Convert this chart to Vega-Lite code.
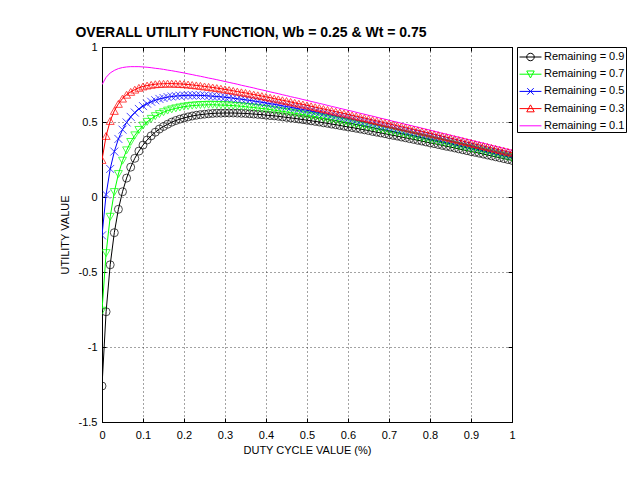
{
"$schema":"https://vega.github.io/schema/vega-lite/v6.json",
"width":410,"height":375,
"autosize":{"type":"none"},
"padding":{"left":102,"top":47,"right":129,"bottom":63},
"background":"white",
"title":{"text":"OVERALL UTILITY FUNCTION, Wb = 0.25 & Wt = 0.75","font":"Liberation Sans","fontSize":14,"fontWeight":"bold","color":"black","anchor":"middle","frame":"group","dx":-56,"offset":1},
"config":{
"view":{"stroke":"black","strokeWidth":1},
"axis":{"labelFont":"Liberation Sans","labelFontSize":11,"labelColor":"black","titleFont":"Liberation Sans","titleFontSize":11,"titleFontWeight":"normal","titleColor":"black","tickColor":"black","domainColor":"black","gridColor":"#333333","gridDash":[1,3],"gridOpacity":0.9,"gridWidth":1,"tickSize":-4,"labelOverlap":false,"labelFlush":false}
},
"data":{"values":[
{"x":0,"s":0.9,"y":-1.26},{"x":0.01,"s":0.9,"y":-0.765},{"x":0.02,"s":0.9,"y":-0.452},{"x":0.03,"s":0.9,"y":-0.238},{"x":0.04,"s":0.9,"y":-0.082},{"x":0.05,"s":0.9,"y":0.035},{"x":0.06,"s":0.9,"y":0.126},{"x":0.07,"s":0.9,"y":0.199},{"x":0.08,"s":0.9,"y":0.258},{"x":0.09,"s":0.9,"y":0.306},
{"x":0.1,"s":0.9,"y":0.346},{"x":0.11,"s":0.9,"y":0.38},{"x":0.12,"s":0.9,"y":0.408},{"x":0.13,"s":0.9,"y":0.432},{"x":0.14,"s":0.9,"y":0.453},{"x":0.15,"s":0.9,"y":0.47},{"x":0.16,"s":0.9,"y":0.485},{"x":0.17,"s":0.9,"y":0.499},{"x":0.18,"s":0.9,"y":0.51},{"x":0.19,"s":0.9,"y":0.519},
{"x":0.2,"s":0.9,"y":0.527},{"x":0.21,"s":0.9,"y":0.534},{"x":0.22,"s":0.9,"y":0.54},{"x":0.23,"s":0.9,"y":0.545},{"x":0.24,"s":0.9,"y":0.549},{"x":0.25,"s":0.9,"y":0.552},{"x":0.26,"s":0.9,"y":0.555},{"x":0.27,"s":0.9,"y":0.557},{"x":0.28,"s":0.9,"y":0.559},{"x":0.29,"s":0.9,"y":0.559},
{"x":0.3,"s":0.9,"y":0.56},{"x":0.31,"s":0.9,"y":0.56},{"x":0.32,"s":0.9,"y":0.56},{"x":0.33,"s":0.9,"y":0.559},{"x":0.34,"s":0.9,"y":0.558},{"x":0.35,"s":0.9,"y":0.557},{"x":0.36,"s":0.9,"y":0.555},{"x":0.37,"s":0.9,"y":0.553},{"x":0.38,"s":0.9,"y":0.551},{"x":0.39,"s":0.9,"y":0.549},
{"x":0.4,"s":0.9,"y":0.546},{"x":0.41,"s":0.9,"y":0.543},{"x":0.42,"s":0.9,"y":0.541},{"x":0.43,"s":0.9,"y":0.538},{"x":0.44,"s":0.9,"y":0.534},{"x":0.45,"s":0.9,"y":0.531},{"x":0.46,"s":0.9,"y":0.527},{"x":0.47,"s":0.9,"y":0.524},{"x":0.48,"s":0.9,"y":0.52},{"x":0.49,"s":0.9,"y":0.516},
{"x":0.5,"s":0.9,"y":0.512},{"x":0.51,"s":0.9,"y":0.508},{"x":0.52,"s":0.9,"y":0.504},{"x":0.53,"s":0.9,"y":0.5},{"x":0.54,"s":0.9,"y":0.495},{"x":0.55,"s":0.9,"y":0.491},{"x":0.56,"s":0.9,"y":0.486},{"x":0.57,"s":0.9,"y":0.482},{"x":0.58,"s":0.9,"y":0.477},{"x":0.59,"s":0.9,"y":0.472},
{"x":0.6,"s":0.9,"y":0.467},{"x":0.61,"s":0.9,"y":0.463},{"x":0.62,"s":0.9,"y":0.458},{"x":0.63,"s":0.9,"y":0.453},{"x":0.64,"s":0.9,"y":0.448},{"x":0.65,"s":0.9,"y":0.443},{"x":0.66,"s":0.9,"y":0.437},{"x":0.67,"s":0.9,"y":0.432},{"x":0.68,"s":0.9,"y":0.427},{"x":0.69,"s":0.9,"y":0.422},
{"x":0.7,"s":0.9,"y":0.416},{"x":0.71,"s":0.9,"y":0.411},{"x":0.72,"s":0.9,"y":0.406},{"x":0.73,"s":0.9,"y":0.4},{"x":0.74,"s":0.9,"y":0.395},{"x":0.75,"s":0.9,"y":0.389},{"x":0.76,"s":0.9,"y":0.384},{"x":0.77,"s":0.9,"y":0.378},{"x":0.78,"s":0.9,"y":0.373},{"x":0.79,"s":0.9,"y":0.367},
{"x":0.8,"s":0.9,"y":0.361},{"x":0.81,"s":0.9,"y":0.356},{"x":0.82,"s":0.9,"y":0.35},{"x":0.83,"s":0.9,"y":0.344},{"x":0.84,"s":0.9,"y":0.338},{"x":0.85,"s":0.9,"y":0.333},{"x":0.86,"s":0.9,"y":0.327},{"x":0.87,"s":0.9,"y":0.321},{"x":0.88,"s":0.9,"y":0.315},{"x":0.89,"s":0.9,"y":0.309},
{"x":0.9,"s":0.9,"y":0.303},{"x":0.91,"s":0.9,"y":0.298},{"x":0.92,"s":0.9,"y":0.292},{"x":0.93,"s":0.9,"y":0.286},{"x":0.94,"s":0.9,"y":0.28},{"x":0.95,"s":0.9,"y":0.274},{"x":0.96,"s":0.9,"y":0.268},{"x":0.97,"s":0.9,"y":0.262},{"x":0.98,"s":0.9,"y":0.256},{"x":0.99,"s":0.9,"y":0.25},{"x":1,"s":0.9,"y":0.244},

{"x":0,"s":0.7,"y":-0.758},{"x":0.01,"s":0.7,"y":-0.374},{"x":0.02,"s":0.7,"y":-0.132},{"x":0.03,"s":0.7,"y":0.033},{"x":0.04,"s":0.7,"y":0.153},{"x":0.05,"s":0.7,"y":0.242},{"x":0.06,"s":0.7,"y":0.311},{"x":0.07,"s":0.7,"y":0.367},{"x":0.08,"s":0.7,"y":0.411},{"x":0.09,"s":0.7,"y":0.447},
{"x":0.1,"s":0.7,"y":0.476},{"x":0.11,"s":0.7,"y":0.501},{"x":0.12,"s":0.7,"y":0.521},{"x":0.13,"s":0.7,"y":0.539},{"x":0.14,"s":0.7,"y":0.553},{"x":0.15,"s":0.7,"y":0.565},{"x":0.16,"s":0.7,"y":0.576},{"x":0.17,"s":0.7,"y":0.584},{"x":0.18,"s":0.7,"y":0.591},{"x":0.19,"s":0.7,"y":0.597},
{"x":0.2,"s":0.7,"y":0.602},{"x":0.21,"s":0.7,"y":0.606},{"x":0.22,"s":0.7,"y":0.609},{"x":0.23,"s":0.7,"y":0.611},{"x":0.24,"s":0.7,"y":0.613},{"x":0.25,"s":0.7,"y":0.614},{"x":0.26,"s":0.7,"y":0.615},{"x":0.27,"s":0.7,"y":0.615},{"x":0.28,"s":0.7,"y":0.614},{"x":0.29,"s":0.7,"y":0.613},
{"x":0.3,"s":0.7,"y":0.612},{"x":0.31,"s":0.7,"y":0.611},{"x":0.32,"s":0.7,"y":0.609},{"x":0.33,"s":0.7,"y":0.607},{"x":0.34,"s":0.7,"y":0.605},{"x":0.35,"s":0.7,"y":0.602},{"x":0.36,"s":0.7,"y":0.599},{"x":0.37,"s":0.7,"y":0.597},{"x":0.38,"s":0.7,"y":0.593},{"x":0.39,"s":0.7,"y":0.59},
{"x":0.4,"s":0.7,"y":0.587},{"x":0.41,"s":0.7,"y":0.583},{"x":0.42,"s":0.7,"y":0.579},{"x":0.43,"s":0.7,"y":0.575},{"x":0.44,"s":0.7,"y":0.571},{"x":0.45,"s":0.7,"y":0.567},{"x":0.46,"s":0.7,"y":0.563},{"x":0.47,"s":0.7,"y":0.558},{"x":0.48,"s":0.7,"y":0.554},{"x":0.49,"s":0.7,"y":0.55},
{"x":0.5,"s":0.7,"y":0.545},{"x":0.51,"s":0.7,"y":0.54},{"x":0.52,"s":0.7,"y":0.536},{"x":0.53,"s":0.7,"y":0.531},{"x":0.54,"s":0.7,"y":0.526},{"x":0.55,"s":0.7,"y":0.521},{"x":0.56,"s":0.7,"y":0.516},{"x":0.57,"s":0.7,"y":0.511},{"x":0.58,"s":0.7,"y":0.506},{"x":0.59,"s":0.7,"y":0.5},
{"x":0.6,"s":0.7,"y":0.495},{"x":0.61,"s":0.7,"y":0.49},{"x":0.62,"s":0.7,"y":0.484},{"x":0.63,"s":0.7,"y":0.479},{"x":0.64,"s":0.7,"y":0.474},{"x":0.65,"s":0.7,"y":0.468},{"x":0.66,"s":0.7,"y":0.463},{"x":0.67,"s":0.7,"y":0.457},{"x":0.68,"s":0.7,"y":0.452},{"x":0.69,"s":0.7,"y":0.446},
{"x":0.7,"s":0.7,"y":0.44},{"x":0.71,"s":0.7,"y":0.435},{"x":0.72,"s":0.7,"y":0.429},{"x":0.73,"s":0.7,"y":0.423},{"x":0.74,"s":0.7,"y":0.417},{"x":0.75,"s":0.7,"y":0.412},{"x":0.76,"s":0.7,"y":0.406},{"x":0.77,"s":0.7,"y":0.4},{"x":0.78,"s":0.7,"y":0.394},{"x":0.79,"s":0.7,"y":0.388},
{"x":0.8,"s":0.7,"y":0.382},{"x":0.81,"s":0.7,"y":0.376},{"x":0.82,"s":0.7,"y":0.37},{"x":0.83,"s":0.7,"y":0.364},{"x":0.84,"s":0.7,"y":0.358},{"x":0.85,"s":0.7,"y":0.353},{"x":0.86,"s":0.7,"y":0.346},{"x":0.87,"s":0.7,"y":0.34},{"x":0.88,"s":0.7,"y":0.334},{"x":0.89,"s":0.7,"y":0.328},
{"x":0.9,"s":0.7,"y":0.322},{"x":0.91,"s":0.7,"y":0.316},{"x":0.92,"s":0.7,"y":0.31},{"x":0.93,"s":0.7,"y":0.304},{"x":0.94,"s":0.7,"y":0.298},{"x":0.95,"s":0.7,"y":0.292},{"x":0.96,"s":0.7,"y":0.285},{"x":0.97,"s":0.7,"y":0.279},{"x":0.98,"s":0.7,"y":0.273},{"x":0.99,"s":0.7,"y":0.267},{"x":1,"s":0.7,"y":0.261},

{"x":0,"s":0.5,"y":-0.256},{"x":0.01,"s":0.5,"y":0.016},{"x":0.02,"s":0.5,"y":0.187},{"x":0.03,"s":0.5,"y":0.303},{"x":0.04,"s":0.5,"y":0.387},{"x":0.05,"s":0.5,"y":0.449},{"x":0.06,"s":0.5,"y":0.497},{"x":0.07,"s":0.5,"y":0.534},{"x":0.08,"s":0.5,"y":0.563},{"x":0.09,"s":0.5,"y":0.587},
{"x":0.1,"s":0.5,"y":0.606},{"x":0.11,"s":0.5,"y":0.622},{"x":0.12,"s":0.5,"y":0.635},{"x":0.13,"s":0.5,"y":0.645},{"x":0.14,"s":0.5,"y":0.654},{"x":0.15,"s":0.5,"y":0.66},{"x":0.16,"s":0.5,"y":0.666},{"x":0.17,"s":0.5,"y":0.67},{"x":0.18,"s":0.5,"y":0.673},{"x":0.19,"s":0.5,"y":0.675},
{"x":0.2,"s":0.5,"y":0.677},{"x":0.21,"s":0.5,"y":0.678},{"x":0.22,"s":0.5,"y":0.678},{"x":0.23,"s":0.5,"y":0.678},{"x":0.24,"s":0.5,"y":0.677},{"x":0.25,"s":0.5,"y":0.676},{"x":0.26,"s":0.5,"y":0.674},{"x":0.27,"s":0.5,"y":0.672},{"x":0.28,"s":0.5,"y":0.67},{"x":0.29,"s":0.5,"y":0.668},
{"x":0.3,"s":0.5,"y":0.665},{"x":0.31,"s":0.5,"y":0.662},{"x":0.32,"s":0.5,"y":0.659},{"x":0.33,"s":0.5,"y":0.655},{"x":0.34,"s":0.5,"y":0.652},{"x":0.35,"s":0.5,"y":0.648},{"x":0.36,"s":0.5,"y":0.644},{"x":0.37,"s":0.5,"y":0.64},{"x":0.38,"s":0.5,"y":0.636},{"x":0.39,"s":0.5,"y":0.631},
{"x":0.4,"s":0.5,"y":0.627},{"x":0.41,"s":0.5,"y":0.622},{"x":0.42,"s":0.5,"y":0.618},{"x":0.43,"s":0.5,"y":0.613},{"x":0.44,"s":0.5,"y":0.608},{"x":0.45,"s":0.5,"y":0.603},{"x":0.46,"s":0.5,"y":0.598},{"x":0.47,"s":0.5,"y":0.593},{"x":0.48,"s":0.5,"y":0.588},{"x":0.49,"s":0.5,"y":0.583},
{"x":0.5,"s":0.5,"y":0.578},{"x":0.51,"s":0.5,"y":0.573},{"x":0.52,"s":0.5,"y":0.567},{"x":0.53,"s":0.5,"y":0.562},{"x":0.54,"s":0.5,"y":0.556},{"x":0.55,"s":0.5,"y":0.551},{"x":0.56,"s":0.5,"y":0.545},{"x":0.57,"s":0.5,"y":0.54},{"x":0.58,"s":0.5,"y":0.534},{"x":0.59,"s":0.5,"y":0.529},
{"x":0.6,"s":0.5,"y":0.523},{"x":0.61,"s":0.5,"y":0.517},{"x":0.62,"s":0.5,"y":0.511},{"x":0.63,"s":0.5,"y":0.505},{"x":0.64,"s":0.5,"y":0.5},{"x":0.65,"s":0.5,"y":0.494},{"x":0.66,"s":0.5,"y":0.488},{"x":0.67,"s":0.5,"y":0.482},{"x":0.68,"s":0.5,"y":0.476},{"x":0.69,"s":0.5,"y":0.47},
{"x":0.7,"s":0.5,"y":0.464},{"x":0.71,"s":0.5,"y":0.458},{"x":0.72,"s":0.5,"y":0.452},{"x":0.73,"s":0.5,"y":0.446},{"x":0.74,"s":0.5,"y":0.44},{"x":0.75,"s":0.5,"y":0.434},{"x":0.76,"s":0.5,"y":0.428},{"x":0.77,"s":0.5,"y":0.422},{"x":0.78,"s":0.5,"y":0.416},{"x":0.79,"s":0.5,"y":0.41},
{"x":0.8,"s":0.5,"y":0.403},{"x":0.81,"s":0.5,"y":0.397},{"x":0.82,"s":0.5,"y":0.391},{"x":0.83,"s":0.5,"y":0.385},{"x":0.84,"s":0.5,"y":0.379},{"x":0.85,"s":0.5,"y":0.372},{"x":0.86,"s":0.5,"y":0.366},{"x":0.87,"s":0.5,"y":0.36},{"x":0.88,"s":0.5,"y":0.354},{"x":0.89,"s":0.5,"y":0.347},
{"x":0.9,"s":0.5,"y":0.341},{"x":0.91,"s":0.5,"y":0.335},{"x":0.92,"s":0.5,"y":0.328},{"x":0.93,"s":0.5,"y":0.322},{"x":0.94,"s":0.5,"y":0.316},{"x":0.95,"s":0.5,"y":0.309},{"x":0.96,"s":0.5,"y":0.303},{"x":0.97,"s":0.5,"y":0.297},{"x":0.98,"s":0.5,"y":0.29},{"x":0.99,"s":0.5,"y":0.284},{"x":1,"s":0.5,"y":0.278},

{"x":0,"s":0.3,"y":0.247},{"x":0.01,"s":0.3,"y":0.407},{"x":0.02,"s":0.3,"y":0.507},{"x":0.03,"s":0.3,"y":0.574},{"x":0.04,"s":0.3,"y":0.621},{"x":0.05,"s":0.3,"y":0.656},{"x":0.06,"s":0.3,"y":0.682},{"x":0.07,"s":0.3,"y":0.701},{"x":0.08,"s":0.3,"y":0.716},{"x":0.09,"s":0.3,"y":0.728},
{"x":0.1,"s":0.3,"y":0.737},{"x":0.11,"s":0.3,"y":0.743},{"x":0.12,"s":0.3,"y":0.748},{"x":0.13,"s":0.3,"y":0.752},{"x":0.14,"s":0.3,"y":0.754},{"x":0.15,"s":0.3,"y":0.755},{"x":0.16,"s":0.3,"y":0.756},{"x":0.17,"s":0.3,"y":0.756},{"x":0.18,"s":0.3,"y":0.755},{"x":0.19,"s":0.3,"y":0.754},
{"x":0.2,"s":0.3,"y":0.752},{"x":0.21,"s":0.3,"y":0.75},{"x":0.22,"s":0.3,"y":0.747},{"x":0.23,"s":0.3,"y":0.744},{"x":0.24,"s":0.3,"y":0.741},{"x":0.25,"s":0.3,"y":0.737},{"x":0.26,"s":0.3,"y":0.734},{"x":0.27,"s":0.3,"y":0.73},{"x":0.28,"s":0.3,"y":0.726},{"x":0.29,"s":0.3,"y":0.722},
{"x":0.3,"s":0.3,"y":0.717},{"x":0.31,"s":0.3,"y":0.713},{"x":0.32,"s":0.3,"y":0.708},{"x":0.33,"s":0.3,"y":0.703},{"x":0.34,"s":0.3,"y":0.698},{"x":0.35,"s":0.3,"y":0.694},{"x":0.36,"s":0.3,"y":0.688},{"x":0.37,"s":0.3,"y":0.683},{"x":0.38,"s":0.3,"y":0.678},{"x":0.39,"s":0.3,"y":0.673},
{"x":0.4,"s":0.3,"y":0.667},{"x":0.41,"s":0.3,"y":0.662},{"x":0.42,"s":0.3,"y":0.656},{"x":0.43,"s":0.3,"y":0.651},{"x":0.44,"s":0.3,"y":0.645},{"x":0.45,"s":0.3,"y":0.64},{"x":0.46,"s":0.3,"y":0.634},{"x":0.47,"s":0.3,"y":0.628},{"x":0.48,"s":0.3,"y":0.622},{"x":0.49,"s":0.3,"y":0.617},
{"x":0.5,"s":0.3,"y":0.611},{"x":0.51,"s":0.3,"y":0.605},{"x":0.52,"s":0.3,"y":0.599},{"x":0.53,"s":0.3,"y":0.593},{"x":0.54,"s":0.3,"y":0.587},{"x":0.55,"s":0.3,"y":0.581},{"x":0.56,"s":0.3,"y":0.575},{"x":0.57,"s":0.3,"y":0.569},{"x":0.58,"s":0.3,"y":0.563},{"x":0.59,"s":0.3,"y":0.557},
{"x":0.6,"s":0.3,"y":0.551},{"x":0.61,"s":0.3,"y":0.544},{"x":0.62,"s":0.3,"y":0.538},{"x":0.63,"s":0.3,"y":0.532},{"x":0.64,"s":0.3,"y":0.526},{"x":0.65,"s":0.3,"y":0.52},{"x":0.66,"s":0.3,"y":0.513},{"x":0.67,"s":0.3,"y":0.507},{"x":0.68,"s":0.3,"y":0.501},{"x":0.69,"s":0.3,"y":0.494},
{"x":0.7,"s":0.3,"y":0.488},{"x":0.71,"s":0.3,"y":0.482},{"x":0.72,"s":0.3,"y":0.475},{"x":0.73,"s":0.3,"y":0.469},{"x":0.74,"s":0.3,"y":0.463},{"x":0.75,"s":0.3,"y":0.456},{"x":0.76,"s":0.3,"y":0.45},{"x":0.77,"s":0.3,"y":0.444},{"x":0.78,"s":0.3,"y":0.437},{"x":0.79,"s":0.3,"y":0.431},
{"x":0.8,"s":0.3,"y":0.424},{"x":0.81,"s":0.3,"y":0.418},{"x":0.82,"s":0.3,"y":0.412},{"x":0.83,"s":0.3,"y":0.405},{"x":0.84,"s":0.3,"y":0.399},{"x":0.85,"s":0.3,"y":0.392},{"x":0.86,"s":0.3,"y":0.386},{"x":0.87,"s":0.3,"y":0.379},{"x":0.88,"s":0.3,"y":0.373},{"x":0.89,"s":0.3,"y":0.366},
{"x":0.9,"s":0.3,"y":0.36},{"x":0.91,"s":0.3,"y":0.353},{"x":0.92,"s":0.3,"y":0.347},{"x":0.93,"s":0.3,"y":0.34},{"x":0.94,"s":0.3,"y":0.334},{"x":0.95,"s":0.3,"y":0.327},{"x":0.96,"s":0.3,"y":0.321},{"x":0.97,"s":0.3,"y":0.314},{"x":0.98,"s":0.3,"y":0.308},{"x":0.99,"s":0.3,"y":0.301},{"x":1,"s":0.3,"y":0.295},

{"x":0,"s":0.1,"y":0.749},{"x":0.01,"s":0.1,"y":0.798},{"x":0.02,"s":0.1,"y":0.827},{"x":0.03,"s":0.1,"y":0.844},{"x":0.04,"s":0.1,"y":0.856},{"x":0.05,"s":0.1,"y":0.863},{"x":0.06,"s":0.1,"y":0.867},{"x":0.07,"s":0.1,"y":0.869},{"x":0.08,"s":0.1,"y":0.869},{"x":0.09,"s":0.1,"y":0.869},
{"x":0.1,"s":0.1,"y":0.867},{"x":0.11,"s":0.1,"y":0.865},{"x":0.12,"s":0.1,"y":0.862},{"x":0.13,"s":0.1,"y":0.858},{"x":0.14,"s":0.1,"y":0.855},{"x":0.15,"s":0.1,"y":0.851},{"x":0.16,"s":0.1,"y":0.846},{"x":0.17,"s":0.1,"y":0.842},{"x":0.18,"s":0.1,"y":0.837},{"x":0.19,"s":0.1,"y":0.832},
{"x":0.2,"s":0.1,"y":0.827},{"x":0.21,"s":0.1,"y":0.821},{"x":0.22,"s":0.1,"y":0.816},{"x":0.23,"s":0.1,"y":0.81},{"x":0.24,"s":0.1,"y":0.805},{"x":0.25,"s":0.1,"y":0.799},{"x":0.26,"s":0.1,"y":0.793},{"x":0.27,"s":0.1,"y":0.788},{"x":0.28,"s":0.1,"y":0.782},{"x":0.29,"s":0.1,"y":0.776},
{"x":0.3,"s":0.1,"y":0.77},{"x":0.31,"s":0.1,"y":0.764},{"x":0.32,"s":0.1,"y":0.758},{"x":0.33,"s":0.1,"y":0.752},{"x":0.34,"s":0.1,"y":0.745},{"x":0.35,"s":0.1,"y":0.739},{"x":0.36,"s":0.1,"y":0.733},{"x":0.37,"s":0.1,"y":0.727},{"x":0.38,"s":0.1,"y":0.72},{"x":0.39,"s":0.1,"y":0.714},
{"x":0.4,"s":0.1,"y":0.708},{"x":0.41,"s":0.1,"y":0.701},{"x":0.42,"s":0.1,"y":0.695},{"x":0.43,"s":0.1,"y":0.689},{"x":0.44,"s":0.1,"y":0.682},{"x":0.45,"s":0.1,"y":0.676},{"x":0.46,"s":0.1,"y":0.669},{"x":0.47,"s":0.1,"y":0.663},{"x":0.48,"s":0.1,"y":0.657},{"x":0.49,"s":0.1,"y":0.65},
{"x":0.5,"s":0.1,"y":0.644},{"x":0.51,"s":0.1,"y":0.637},{"x":0.52,"s":0.1,"y":0.631},{"x":0.53,"s":0.1,"y":0.624},{"x":0.54,"s":0.1,"y":0.618},{"x":0.55,"s":0.1,"y":0.611},{"x":0.56,"s":0.1,"y":0.604},{"x":0.57,"s":0.1,"y":0.598},{"x":0.58,"s":0.1,"y":0.591},{"x":0.59,"s":0.1,"y":0.585},
{"x":0.6,"s":0.1,"y":0.578},{"x":0.61,"s":0.1,"y":0.572},{"x":0.62,"s":0.1,"y":0.565},{"x":0.63,"s":0.1,"y":0.558},{"x":0.64,"s":0.1,"y":0.552},{"x":0.65,"s":0.1,"y":0.545},{"x":0.66,"s":0.1,"y":0.539},{"x":0.67,"s":0.1,"y":0.532},{"x":0.68,"s":0.1,"y":0.525},{"x":0.69,"s":0.1,"y":0.519},
{"x":0.7,"s":0.1,"y":0.512},{"x":0.71,"s":0.1,"y":0.505},{"x":0.72,"s":0.1,"y":0.499},{"x":0.73,"s":0.1,"y":0.492},{"x":0.74,"s":0.1,"y":0.485},{"x":0.75,"s":0.1,"y":0.479},{"x":0.76,"s":0.1,"y":0.472},{"x":0.77,"s":0.1,"y":0.466},{"x":0.78,"s":0.1,"y":0.459},{"x":0.79,"s":0.1,"y":0.452},
{"x":0.8,"s":0.1,"y":0.446},{"x":0.81,"s":0.1,"y":0.439},{"x":0.82,"s":0.1,"y":0.432},{"x":0.83,"s":0.1,"y":0.425},{"x":0.84,"s":0.1,"y":0.419},{"x":0.85,"s":0.1,"y":0.412},{"x":0.86,"s":0.1,"y":0.405},{"x":0.87,"s":0.1,"y":0.399},{"x":0.88,"s":0.1,"y":0.392},{"x":0.89,"s":0.1,"y":0.385},
{"x":0.9,"s":0.1,"y":0.379},{"x":0.91,"s":0.1,"y":0.372},{"x":0.92,"s":0.1,"y":0.365},{"x":0.93,"s":0.1,"y":0.359},{"x":0.94,"s":0.1,"y":0.352},{"x":0.95,"s":0.1,"y":0.345},{"x":0.96,"s":0.1,"y":0.338},{"x":0.97,"s":0.1,"y":0.332},{"x":0.98,"s":0.1,"y":0.325},{"x":0.99,"s":0.1,"y":0.318},{"x":1,"s":0.1,"y":0.312}
]},
"layer":[
{"mark":{"type":"line","strokeWidth":1,"clip":true},
 "encoding":{
  "x":{"field":"x","type":"quantitative","scale":{"domain":[0,1],"nice":false,"zero":false},
       "axis":{"orient":"bottom","values":[0,0.1,0.2,0.3,0.4,0.5,0.6,0.7,0.8,0.9,1],"labelExpr":"'' + datum.value","grid":true,"title":"DUTY CYCLE VALUE (%)","labelPadding":11,"titlePadding":4}},
  "y":{"field":"y","type":"quantitative","scale":{"domain":[-1.5,1],"nice":false,"zero":false},
       "axis":{"orient":"left","values":[-1.5,-1,-0.5,0,0.5,1],"labelExpr":"'' + datum.value","grid":true,"title":"UTILITY VALUE","labelPadding":9,"titlePadding":8}},
  "color":{"field":"s","type":"nominal","scale":{"domain":[0.9,0.7,0.5,0.3,0.1],"range":["#000000","#00ff00","#0000ff","#ff0000","#ff00ff"]},
     "legend":{"orient":"none","legendX":415,"legendY":0,"title":null,"strokeColor":"black","fillColor":"white","padding":1,"rowPadding":2.2,"symbolSize":289,"symbolStrokeWidth":1,"labelFont":"Liberation Sans","labelFontSize":11,"labelColor":"black","labelOffset":8,
       "labelExpr":"'Remaining = ' + datum.label + '   '",
       "encode":{"symbols":{"update":{"fill":{"value":"transparent"},"strokeWidth":{"value":1},"shape":{"signal":"datum.value == 0.9 ? 'M-0.88,0H1.7M0.85,0A0.44,0.44 0 1,1 -0.03,0A0.44,0.44 0 1,1 0.85,0' : datum.value == 0.7 ? 'M-0.88,0H1.7M-0.03,-0.38L0.85,-0.38L0.41,0.44Z' : datum.value == 0.5 ? 'M-0.88,0H1.7M0.03,-0.38L0.79,0.38M0.03,0.38L0.79,-0.38' : datum.value == 0.3 ? 'M-0.88,0H1.7M-0.03,0.38L0.85,0.38L0.41,-0.44Z' : 'M-0.88,0H1.7'"}}}}}}
 }},
{"transform":[{"filter":"datum.s != 0.1"}],
 "mark":{"type":"point","filled":false,"strokeWidth":1,"size":64,"clip":true},
 "encoding":{
  "x":{"field":"x","type":"quantitative","axis":{"orient":"top","values":[0,0.1,0.2,0.3,0.4,0.5,0.6,0.7,0.8,0.9,1],"labels":false,"grid":false,"title":null}},
  "y":{"field":"y","type":"quantitative","axis":{"orient":"right","values":[-1.5,-1,-0.5,0,0.5,1],"labels":false,"grid":false,"title":null}},
  "color":{"field":"s","type":"nominal"},
  "shape":{"field":"s","type":"nominal","scale":{"domain":[0.9,0.7,0.5,0.3],"range":["circle","triangle-down","M-1,-1L1,1M-1,1L1,-1","triangle-up"]},"legend":null}
 }}
],
"resolve":{"axis":{"x":"independent","y":"independent"}}
}
